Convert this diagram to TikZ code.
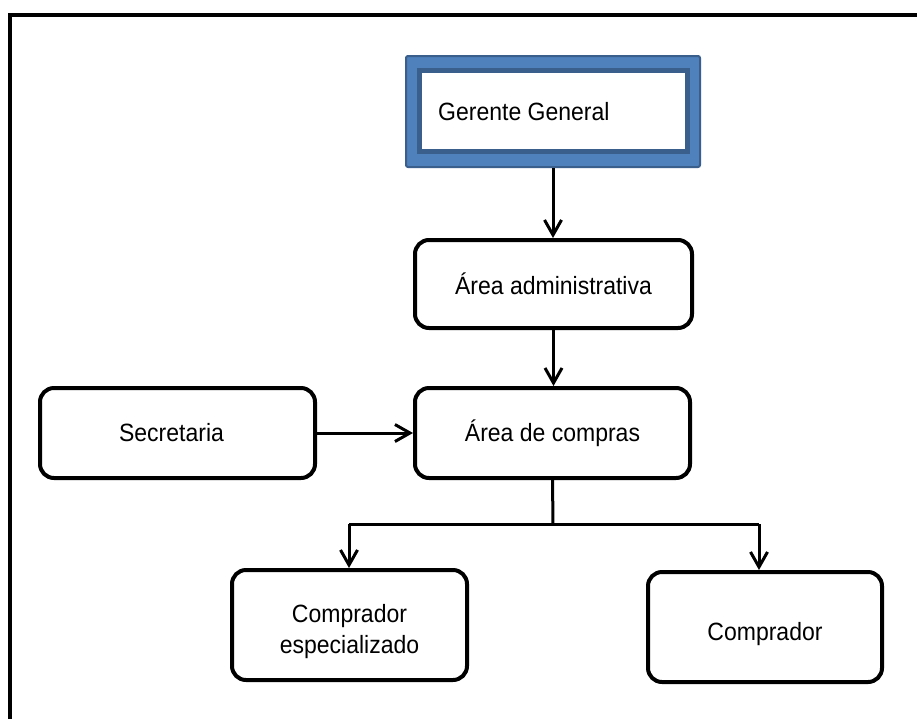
\documentclass[tikz,border=0pt]{standalone}
\usepackage{fontspec}
\setmainfont{Liberation Sans}[FakeStretch=0.92]
\usetikzlibrary{arrows.meta}
\definecolor{bandblue}{HTML}{4F81BD}
\definecolor{edgeblue}{HTML}{3A5F8C}
\begin{document}
\begin{tikzpicture}[x=1pt,y=-1pt,
  font=\fontsize{25}{31}\selectfont,
  unitbox/.style={draw=black, line width=4pt, rounded corners=14pt, fill=white,
    align=center, inner sep=0pt},
  boxtext/.style={align=center, inner sep=0pt},
  conn/.style={draw=black, line width=3pt},
  arr/.style={conn, -{Straight Barb[length=15pt,width=17pt,line width=3pt]}}]
  \useasboundingbox (0,0) rectangle (917,718);
  \clip (0,0) rectangle (917,718);
  \fill[white] (0,0) rectangle (917,718);
  % outer frame, running off the right and bottom edges
  \draw[line width=4pt] (9.5,740) -- (9.5,14.5) -- (940,14.5);

  % top position: double blue frame
  \node[draw=edgeblue, fill=bandblue, line width=2pt, rounded corners=2pt,
        minimum width=294pt, minimum height=111pt, inner sep=0pt] (gg) at (553,111.5) {};
  \node[draw=edgeblue, fill=white, line width=5pt,
        minimum width=268.5pt, minimum height=81pt, inner sep=0pt] (ggin) at (553.25,111) {};
  \node[anchor=west, inner sep=0pt] (ggtxt) at (438,112) {Gerente General};

  \node[unitbox, minimum width=277pt, minimum height=88pt] (aa) at (553.5,284) {Área administrativa};
  \node[unitbox, minimum width=275pt, minimum height=90pt] (ac) at (552.5,433) {Área de compras};
  \node[unitbox, minimum width=275pt, minimum height=90pt] (sec) at (177.5,433) {};
  \node[boxtext, xshift=-6pt] (sectxt) at (sec.center) {Secretaria};
  \node[unitbox, minimum width=235pt, minimum height=110pt] (ce) at (349.5,625) {};
  \node[boxtext, yshift=-7pt] (cetxt) at (ce.center) {Comprador\\especializado};
  \node[unitbox, minimum width=234pt, minimum height=110pt] (cp) at (765,627) {};
  \node[boxtext, yshift=-7pt] (cptxt) at (cp.center) {Comprador};

  % connectors
  \draw[arr] (gg.south) -- (gg.south |- aa.north);
  \draw[arr] (aa.south) -- (aa.south |- ac.north);
  \draw[arr] (sec.east) -- (ac.west);

  \coordinate (jm) at (553,524);
  \coordinate (jl) at (349,524);
  \coordinate (jr) at (759,524);
  \draw[conn] (ac.south) -- (jm);
  \draw[conn] (jl) -- (jr);
  \draw[arr] (jl) -- (jl |- ce.north);
  \draw[arr] (jr) -- (jr |- cp.north);
\end{tikzpicture}
\end{document}
